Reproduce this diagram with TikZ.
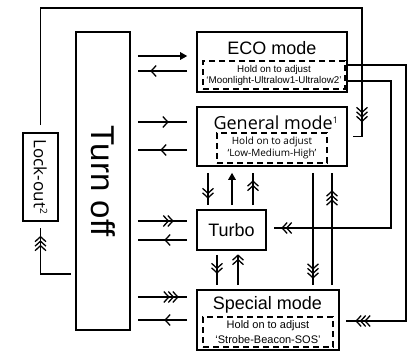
\documentclass[tikz,border=0pt]{standalone}
\usepackage{fontspec}
\setmainfont{Liberation Sans}
\newfontfamily\opensans{Open Sans}
\usepackage{tikz}
\usetikzlibrary{arrows.meta,decorations.markings}

\tikzset{
	modebox/.style={draw, line width=1.6pt, inner sep=0pt},
	adjbox/.style={draw, line width=1.5pt, dash pattern=on 6pt off 4pt, inner sep=0pt, align=center},
	conn/.style={line width=1.3pt},
	endtip/.style={-{Triangle[length=7pt,width=7.5pt]}},
	chevs/.style 2 args={postaction={decorate},
		decoration={markings, mark=at position #1 with {
			\foreach \k in {1,...,#2}{
				\draw[line width=1.3pt] ({(-5-(\k-1)*4.5)*1pt},5.5pt) -- ({-(\k-1)*4.5*1pt},0pt) -- ({(-5-(\k-1)*4.5)*1pt},-5.5pt);
			}}}},
}

\begin{document}
\begin{tikzpicture}[x=1pt, y=-1pt]
\useasboundingbox (0,0) rectangle (420,351);

% boxes
\node[modebox, minimum width=54pt, minimum height=298pt] (off) at (103,181) {\fontsize{33}{36}\selectfont\rotatebox{-90}{Turn off}};
\node[modebox, minimum width=35pt, minimum height=88pt] (lock) at (40.5,177) {\opensans\fontsize{17}{20}\selectfont\rotatebox{-90}{Lock-out\textsuperscript{\fontsize{10}{10}\selectfont 2}}};
\node[modebox, minimum width=150pt, minimum height=60pt] (eco) at (272,62) {};
\node[modebox, minimum width=150pt, minimum height=59pt] (gen) at (272,136.5) {};
\node[modebox, minimum width=69pt, minimum height=40pt, font=\fontsize{18}{20}\selectfont] (turbo) at (231.5,230) {Turbo};
\node[modebox, minimum width=142pt, minimum height=60pt] (spec) at (268,320) {};

% titles and adjust boxes
\node[font=\fontsize{18}{20}\selectfont] (ecotitle) at (272,48) {ECO mode};
\node[adjbox, minimum width=142pt, minimum height=28pt, font=\fontsize{9.8}{11}\selectfont] (ecoadj) at (274,75) {Hold on to adjust\\‘Moonlight-Ultralow1-Ultralow2’};
\node[font=\opensans\fontsize{18}{20}\selectfont] (gentitle) at (276,123) {General mode\textsuperscript{\fontsize{9}{9}\selectfont 1}};
\node[adjbox, minimum width=110pt, minimum height=30pt, font=\opensans\fontsize{10}{12}\selectfont] (genadj) at (272,148) {Hold on to adjust\\‘Low-Medium-High’};
\node[font=\fontsize{18}{20}\selectfont] (spectitle) at (267.5,305) {Special mode};
\node[adjbox, minimum width=130pt, minimum height=30pt, font=\fontsize{11}{15}\selectfont] (specadj) at (268,332) {Hold on to adjust\\‘Strobe-Beacon-SOS’};

% helper coordinates
\coordinate (L) at ([xshift=7pt]off.east);
\coordinate (R) at ([xshift=-9pt]eco.west);
\coordinate (ow) at ([xshift=-4pt]off.west);
\coordinate (gb) at ([yshift=-6pt]gen.south);
\coordinate (tt) at ([yshift=4pt]turbo.north);
\coordinate (tb) at ([yshift=-4pt]turbo.south);
\coordinate (st) at ([yshift=4pt]spec.north);

% turn off <-> modes
\draw[conn, endtip] (L |- 0,56) -- (R |- 0,56);
\draw[conn, chevs={36pt}{1}] (R |- 0,71) -- (L |- 0,71);
\draw[conn, chevs={30pt}{1}] (L |- 0,122) -- (R |- 0,122);
\draw[conn, chevs={26pt}{1}] (R |- 0,150) -- (L |- 0,150);
\draw[conn, chevs={35pt}{2}] (L |- 0,221) -- (R |- 0,221);
\draw[conn, chevs={22pt}{1}] (R |- 0,240) -- (L |- 0,240);
\draw[conn, chevs={40pt}{3}] (L |- 0,297) -- (R |- 0,297);
\draw[conn, chevs={22pt}{1}] (R |- 0,320) -- (L |- 0,320);

% between the modes
\draw[conn, chevs={25pt}{2}] (gb -| 208,0) -- (tt -| 208,0);
\draw[conn, endtip] (tt -| 232,0) -- (gb -| 232,0);
\draw[conn, chevs={24pt}{2}] (tt -| 253,0) -- (gb -| 253,0);
\draw[conn, chevs={18pt}{2}] (tb -| 217,0) -- (st -| 217,0);
\draw[conn, chevs={30pt}{2}] (st -| 238,0) -- (tb -| 238,0);
\draw[conn, chevs={105pt}{3}] (gb -| 313,0) -- (st -| 313,0);
\draw[conn, chevs={94pt}{3}] (st -| 332,0) -- (gb -| 332,0);

% loops
\draw[conn, chevs={552pt}{3}] ([yshift=7pt]lock.north) |- (362,8) |- ([xshift=5pt]gen.east);
\draw[conn, chevs={299pt}{2}] ([yshift=-19pt]eco.east) -| (391,228) -- ([xshift=7pt,yshift=2pt]turbo.east);
\draw[conn, chevs={364pt}{3}] ([yshift=-3pt]eco.east) -| (406,321) -- ([xshift=6pt,yshift=-1pt]spec.east);
\draw[conn, chevs={68pt}{3}] (ow |- 0,274) -| ([yshift=-6pt]lock.south);

\end{tikzpicture}
\end{document}
